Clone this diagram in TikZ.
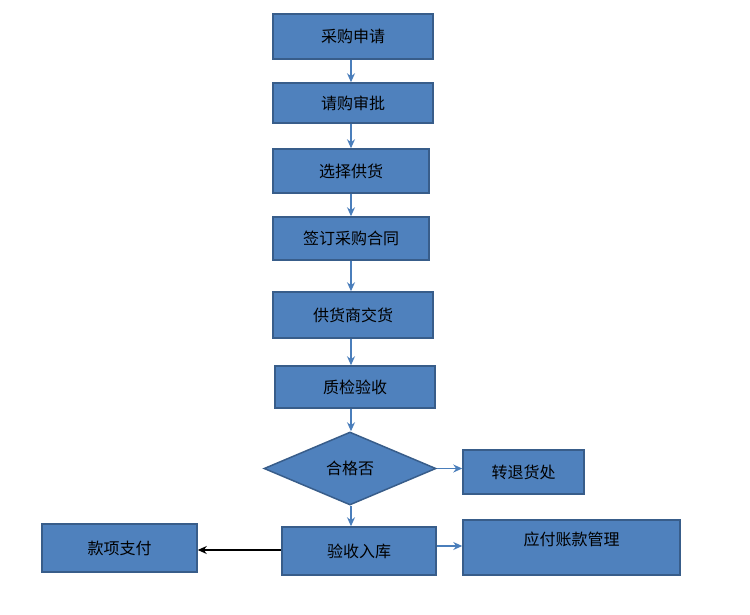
\documentclass[tikz,border=0pt]{standalone}
\usepackage{fontspec}
\newfontfamily\cjk{Noto Sans CJK SC}
\usetikzlibrary{shapes.geometric,arrows.meta}
\definecolor{bfill}{HTML}{4F81BD}
\definecolor{bdraw}{HTML}{385D8A}
\definecolor{arr}{HTML}{4A7EBB}
\tikzset{
 box/.style={draw=bdraw,fill=bfill,line width=1.5pt,font=\cjk\fontsize{16}{18}\selectfont,text=black,inner sep=0pt},
 dia/.style={diamond,aspect=2.35,draw=bdraw,fill=bfill,line width=1.5pt,font=\cjk\fontsize{16}{18}\selectfont,inner sep=0pt,minimum width=172pt,minimum height=73pt},
 lbl/.style={font=\cjk\fontsize{16}{18}\selectfont,text=black,inner sep=0pt},
 flow/.style={draw=arr,line width=1.3pt,-{Stealth[length=9pt,width=8pt]}},
 blk/.style={draw=black,line width=1.3pt,-{Stealth[length=9pt,width=8pt]}}
}
\begin{document}
\begin{tikzpicture}[x=1pt,y=-1pt]
\useasboundingbox (0,0) rectangle (750,614);
\node[box,minimum width=160pt,minimum height=45pt] (a) at (353,36.5) {采购申请};
\node[box,minimum width=160pt,minimum height=40pt] (b) at (353,103) {请购审批};
\node[box,minimum width=156pt,minimum height=44pt] (c) at (351,171) {选择供货};
\node[box,minimum width=156pt,minimum height=43pt] (d) at (351,238.5) {签订采购合同};
\node[box,minimum width=160pt,minimum height=46pt] (e) at (353,315) {供货商交货};
\node[box,minimum width=160pt,minimum height=42pt] (f) at (355,387) {质检验收};
\node[dia] (g) at (350,468.5) {合格否};
\node[box,minimum width=121pt,minimum height=44pt] (h) at (523.5,472) {转退货处};
\node[box,minimum width=154pt,minimum height=48pt] (i) at (359,551) {验收入库};
\node[box,minimum width=155pt,minimum height=48pt] (j) at (119.5,548) {款项支付};
\node[box,minimum width=217pt,minimum height=55pt] (k) at (571.5,547.5) {};
\node[lbl] (kt) at (571.5,539) {应付账款管理};
\draw[flow] (a.south -| 351,0) -- (b.north -| 351,0);
\draw[flow] (b.south -| 351,0) -- (c.north -| 351,0);
\draw[flow] (c.south -| 351,0) -- (d.north -| 351,0);
\draw[flow] (d.south -| 351,0) -- (e.north -| 351,0);
\draw[flow] (e.south -| 351,0) -- (f.north -| 351,0);
\draw[flow] (f.south -| 351,0) -- (g.north -| 351,0);
\draw[flow] (g.south -| 351,0) -- (i.north -| 351,0);
\draw[flow] (g.east) -- (h.west |- g.east);
\draw[flow] (i.east |- 0,546) -- (k.west |- 0,546);
\draw[blk] (i.west |- 0,550) -- (j.east |- 0,550);
\end{tikzpicture}
\end{document}
